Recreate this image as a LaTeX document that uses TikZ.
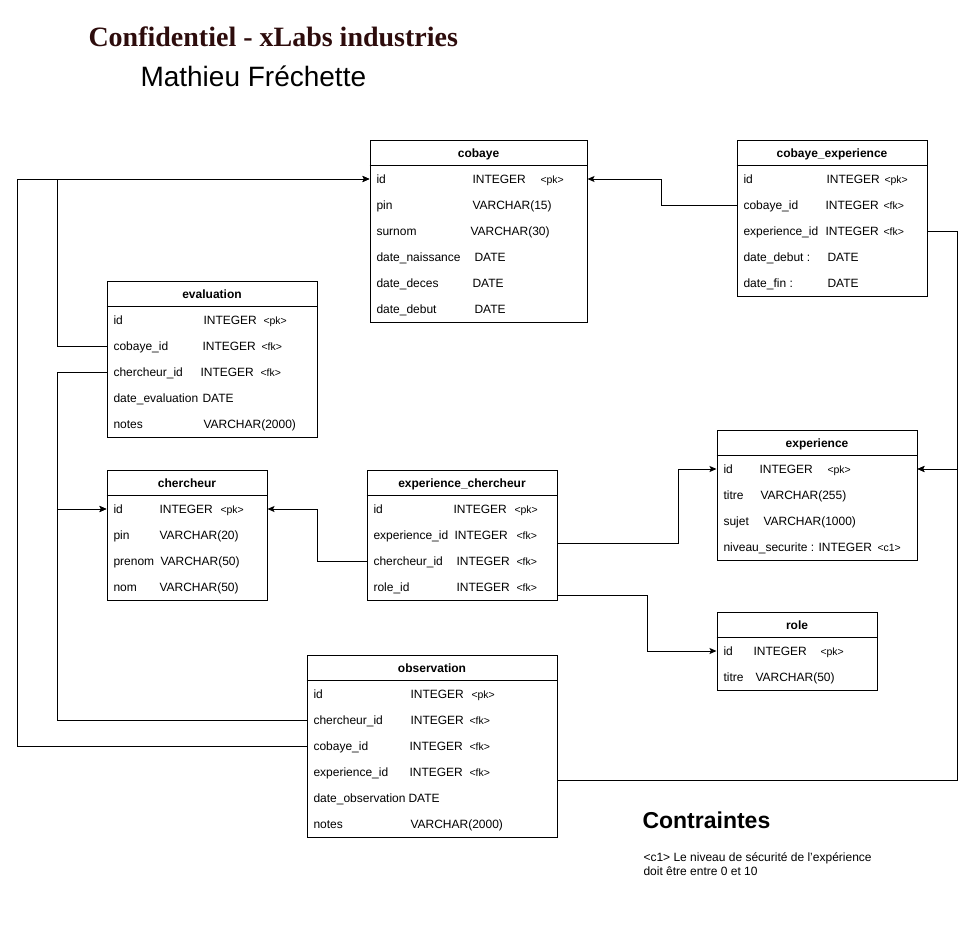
\documentclass[tikz,border=0pt]{standalone}
\usepackage{fontspec}
\setmainfont{Liberation Sans}
\newfontfamily\titlefont{Liberation Serif}
\usetikzlibrary{arrows.meta}

\definecolor{titlecol}{RGB}{45,12,12}

% one table with its header line and title
\newcommand{\dbtable}[6]{%
  \node[tablebox, minimum width={(#4-#2)*1pt}, minimum height={(#5-#3)*1pt}] (#1) at ({(#2+#4)/2},{(#3+#5)/2}) {};
  \draw ([yshift=-26pt]#1.north west) -- ([yshift=-26pt]#1.north east);
  \node[headtxt] at ({(#2+#4)/2},#3+17.5) {#6};
}
% one row of a table: name, left, right, y, field, type x, type, tag x, tag
\newcommand{\dbrow}[9]{%
  \node[rowbox, minimum width={(#3-#2)*1pt}] (#1) at ({(#2+#3)/2},#4) {};
  \node[fieldtxt] at (#2+6,#4+4.8) {#5};
  \node[fieldtxt] at (#6,#4+4.8) {#7};
  \node[tagtxt] at (#8,#4+4) {#9};
}

\begin{document}
\begin{tikzpicture}[x=1pt, y=-1pt, line width=1pt,
    tablebox/.style={draw, inner sep=0pt},
    rowbox/.style={inner sep=0pt, minimum height=26pt},
    headtxt/.style={anchor=base, inner sep=0pt, font=\fontsize{12}{14}\selectfont\bfseries},
    fieldtxt/.style={anchor=base west, inner sep=0pt, font=\fontsize{12}{14}\selectfont},
    tagtxt/.style={anchor=base west, inner sep=0pt, font=\fontsize{10.5}{12}\selectfont},
    fk/.style={-{Stealth[length=7pt, width=6pt, inset=1.5pt]}}]
\useasboundingbox (0,0) rectangle (977,932);

\node[anchor=base west, inner sep=0pt, text=titlecol, font=\fontsize{28}{32}\selectfont\titlefont\bfseries] (title) at (88,46) {Confidentiel - xLabs industries};
\node[anchor=base west, inner sep=0pt, font=\fontsize{28}{32}\selectfont] (author) at (140,86) {Mathieu Fréchette};

% cobaye
\dbtable{cob}{370}{140}{587}{322}{cobaye}
\dbrow{cob-id}{370}{587}{179}{id}{472}{INTEGER}{540}{<pk>}
\dbrow{cob-pin}{370}{587}{205}{pin}{472}{VARCHAR(15)}{540}{}
\dbrow{cob-surnom}{370}{587}{231}{surnom}{470}{VARCHAR(30)}{540}{}
\dbrow{cob-naiss}{370}{587}{257}{date\_naissance}{474}{DATE}{540}{}
\dbrow{cob-deces}{370}{587}{283}{date\_deces}{472}{DATE}{540}{}
\dbrow{cob-debut}{370}{587}{309}{date\_debut}{474}{DATE}{540}{}

% cobaye_experience
\dbtable{cexp}{737}{140}{927}{296}{cobaye\_experience}
\dbrow{cexp-id}{737}{927}{179}{id}{826}{INTEGER}{884}{<pk>}
\dbrow{cexp-cobaye}{737}{927}{205}{cobaye\_id}{825}{INTEGER}{883}{<fk>}
\dbrow{cexp-exp}{737}{927}{231}{experience\_id}{825}{INTEGER}{883}{<fk>}
\dbrow{cexp-debut}{737}{927}{257}{date\_debut :}{827}{DATE}{883}{}
\dbrow{cexp-fin}{737}{927}{283}{date\_fin :}{827}{DATE}{883}{}

% evaluation
\dbtable{eval}{107}{281}{317}{437}{evaluation}
\dbrow{eval-id}{107}{317}{320}{id}{203}{INTEGER}{263}{<pk>}
\dbrow{eval-cobaye}{107}{317}{346}{cobaye\_id}{202}{INTEGER}{261}{<fk>}
\dbrow{eval-cherch}{107}{317}{372}{chercheur\_id}{200}{INTEGER}{260}{<fk>}
\dbrow{eval-date}{107}{317}{398}{date\_evaluation}{202}{DATE}{260}{}
\dbrow{eval-notes}{107}{317}{424}{notes}{203}{VARCHAR(2000)}{260}{}

% chercheur
\dbtable{cher}{107}{470}{267}{600}{chercheur}
\dbrow{cher-id}{107}{267}{509}{id}{159}{INTEGER}{220}{<pk>}
\dbrow{cher-pin}{107}{267}{535}{pin}{159}{VARCHAR(20)}{220}{}
\dbrow{cher-prenom}{107}{267}{561}{prenom}{160}{VARCHAR(50)}{220}{}
\dbrow{cher-nom}{107}{267}{587}{nom}{159}{VARCHAR(50)}{220}{}

% experience_chercheur
\dbtable{ech}{367}{470}{557}{600}{experience\_chercheur}
\dbrow{ech-id}{367}{557}{509}{id}{453}{INTEGER}{514}{<pk>}
\dbrow{ech-exp}{367}{557}{535}{experience\_id}{454}{INTEGER}{516}{<fk>}
\dbrow{ech-cherch}{367}{557}{561}{chercheur\_id}{456}{INTEGER}{516}{<fk>}
\dbrow{ech-role}{367}{557}{587}{role\_id}{456}{INTEGER}{516}{<fk>}

% experience
\dbtable{exp}{717}{430}{917}{560}{experience}
\dbrow{exp-id}{717}{917}{469}{id}{759}{INTEGER}{827}{<pk>}
\dbrow{exp-titre}{717}{917}{495}{titre}{760}{VARCHAR(255)}{827}{}
\dbrow{exp-sujet}{717}{917}{521}{sujet}{763}{VARCHAR(1000)}{827}{}
\dbrow{exp-niveau}{717}{917}{547}{niveau\_securite : INTEGER}{880}{}{877}{<c1>}

% role
\dbtable{role}{717}{612}{877}{690}{role}
\dbrow{role-id}{717}{877}{651}{id}{753}{INTEGER}{820}{<pk>}
\dbrow{role-titre}{717}{877}{677}{titre}{755}{VARCHAR(50)}{820}{}

% observation
\dbtable{obs}{307}{655}{557}{837}{observation}
\dbrow{obs-id}{307}{557}{694}{id}{410}{INTEGER}{471}{<pk>}
\dbrow{obs-cherch}{307}{557}{720}{chercheur\_id}{410}{INTEGER}{469}{<fk>}
\dbrow{obs-cobaye}{307}{557}{746}{cobaye\_id}{409}{INTEGER}{469}{<fk>}
\dbrow{obs-exp}{307}{557}{772}{experience\_id}{409}{INTEGER}{469}{<fk>}
\dbrow{obs-date}{307}{557}{798}{date\_observation}{408}{DATE}{469}{}
\dbrow{obs-notes}{307}{557}{824}{notes}{410}{VARCHAR(2000)}{469}{}

% contraintes
\node[anchor=base west, inner sep=0pt, font=\fontsize{23}{26}\selectfont\bfseries] (contr) at (642,828) {Contraintes};
\node[anchor=base west, inner sep=0pt, align=left, font=\fontsize{12}{14}\selectfont] (c1) at (643,875) {<c1> Le niveau de sécurité de l'expérience\\doit être entre 0 et 10};

% cles etrangeres
\draw[fk] (cexp-cobaye.west) -- ++(-75,0) |- (cob-id.east);
\draw[fk] (cexp-exp.east) -- ++(30,0) |- (exp-id.east);
\draw[fk] (eval-cobaye.west) -- ++(-49,0) |- (cob-id.west);
\draw[fk] (eval-cherch.west) -- ++(-49,0) |- (cher-id.west);
\draw[fk] (ech-cherch.west) -- ++(-49,0) |- (cher-id.east);
\draw[fk] ([yshift=-8pt]ech-exp.east) -- ++(121,0) |- (exp-id.west);
\draw[fk] ([yshift=-8pt]ech-role.east) -- ++(90,0) |- (role-id.west);
\draw[fk] (obs-cherch.west) -- ++(-249,0) |- (cher-id.west);
\draw[fk] (obs-cobaye.west) -- ++(-289,0) |- (cob-id.west);
\draw[fk] ([yshift=-8pt]obs-exp.east) -- ++(400,0) |- (exp-id.east);
\end{tikzpicture}
\end{document}
